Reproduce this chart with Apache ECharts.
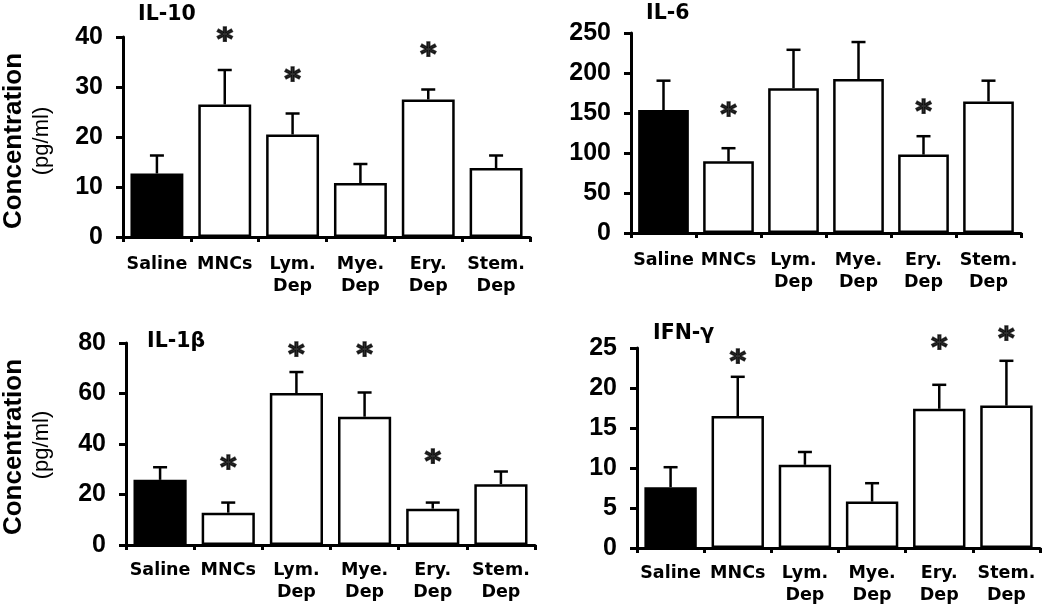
<!DOCTYPE html>
<html>
<head>
<meta charset="utf-8">
<script src="https://cdn.jsdelivr.net/npm/echarts@6/dist/echarts.min.js"></script>
<style>html,body{margin:0;padding:0;background:#fff}#c{width:1050px;height:610px}</style>
</head>
<body>
<div id="c"></div>
<script>
const categories = ['Saline', 'MNCs', 'Lym.\nDep', 'Mye.\nDep', 'Ery.\nDep', 'Stem.\nDep'];
const titles = ['IL-10', 'IL-6', 'IL-1β', 'IFN-γ'];
const yMax = [40, 250, 80, 25];
const yInterval = [10, 50, 20, 5];

const il10Mean = [12.7, 26.5, 20.5, 10.8, 27.5, 13.8];
const il10Sem  = [3.6, 6.9, 4.2, 3.8, 2.0, 2.5];
const il10Star = [null, 40.4, 32.4, null, 37.4, null];

const il6Mean = [153.7, 89.6, 181, 192.5, 98, 164.5];
const il6Sem  = [36.7, 16.4, 48, 46.2, 23, 25.9];
const il6Star = [null, 154, null, null, 158, null];

const il1bMean = [25.8, 12.8, 60.2, 50.8, 14.4, 24.1];
const il1bSem  = [5.0, 4.0, 8.3, 9.6, 2.4, 5.0];
const il1bStar = [null, 32.4, 77.4, 77.4, 35, null];

const ifnMean = [7.6, 16.5, 10.4, 5.8, 17.4, 17.8];
const ifnSem  = [2.5, 4.9, 1.6, 2.3, 3.0, 5.6];
const ifnStar = [null, 23.9, null, null, 25.6, 26.8];

const panels = [
  {mean: il10Mean, sem: il10Sem, star: il10Star},
  {mean: il6Mean, sem: il6Sem, star: il6Star},
  {mean: il1bMean, sem: il1bSem, star: il1bStar},
  {mean: ifnMean, sem: ifnSem, star: ifnStar}
];

const grids = [
  {left: 123, top: 37, width: 407, height: 200},
  {left: 631, top: 33, width: 390, height: 200},
  {left: 126, top: 343, width: 409, height: 202},
  {left: 637, top: 348, width: 403, height: 200}
];
const titlePos = [
  {left: 138, top: 4},
  {left: 646, top: 3},
  {left: 147, top: 331},
  {left: 653, top: 323}
];
const labelMargin = [16, 16, 14, 14];

const BOLD = 'DejaVu Sans';
const ARIAL = 'Liberation Sans';
const chart = echarts.init(document.getElementById('c'), null, {renderer: 'canvas'});

const xAxes = [], yAxes = [], series = [], titleArr = [];
panels.forEach((p, k) => {
  titleArr.push({
    text: titles[k], left: titlePos[k].left, top: titlePos[k].top, padding: 0,
    textStyle: {fontFamily: BOLD, fontWeight: 'bold', fontSize: 20.5, color: '#000'}
  });
  xAxes.push({
    type: 'category', gridIndex: k, data: categories,
    axisLine: {lineStyle: {color: '#000', width: 3}},
    axisTick: {show: true, length: 5, lineStyle: {color: '#000', width: 3}},
    axisLabel: {interval: 0, color: '#000', fontFamily: BOLD, fontWeight: 'bold',
                fontSize: 17.5, lineHeight: 22, margin: labelMargin[k]}
  });
  yAxes.push({
    type: 'value', gridIndex: k, min: 0, max: yMax[k], interval: yInterval[k],
    splitLine: {show: false},
    axisLine: {show: true, lineStyle: {color: '#000', width: 3}},
    axisTick: {show: true, length: 7, lineStyle: {color: '#000', width: 3}},
    axisLabel: {color: '#000', fontFamily: ARIAL, fontWeight: 'bold', fontSize: 25, margin: 20}
  });
  series.push({
    type: 'bar', xAxisIndex: k, yAxisIndex: k, barWidth: '78%',
    data: p.mean.map((v, i) => ({value: v, itemStyle: {color: i === 0 ? '#000' : '#fff'}})),
    itemStyle: {borderColor: '#000', borderWidth: 2.5},
    emphasis: {disabled: true}, z: 2
  });
  series.push({
    type: 'custom', xAxisIndex: k, yAxisIndex: k, z: 3,
    data: p.mean.map((v, i) => [i, v, v + p.sem[i]]),
    renderItem: function (params, api) {
      const a = api.coord([api.value(0), api.value(1)]);
      const b = api.coord([api.value(0), api.value(2)]);
      const st = {stroke: '#000', lineWidth: 2.5};
      return {type: 'group', children: [
        {type: 'line', shape: {x1: a[0], y1: a[1], x2: b[0], y2: b[1]}, style: st},
        {type: 'line', shape: {x1: b[0] - 7, y1: b[1], x2: b[0] + 7, y2: b[1]}, style: st}
      ]};
    }
  });
  series.push({
    type: 'scatter', xAxisIndex: k, yAxisIndex: k, symbolSize: 1, clip: false,
    itemStyle: {color: 'rgba(0,0,0,0)'}, z: 4,
    data: p.star.map((v, i) => v === null ? null : [i, v]).filter(d => d),
    label: {show: true, position: 'inside', formatter: '*', color: '#000',
            textBorderColor: '#000', textBorderWidth: 1.6,
            fontFamily: BOLD, fontWeight: 'bold', fontSize: 31, offset: [0, 6]}
  });
});

const yLabels = [
  {x: 14, y: 141, text: 'Concentration', font: 'bold 26px "Liberation Sans"'},
  {x: 42, y: 141, text: '(pg/ml)', font: '22px "Liberation Sans"'},
  {x: 14, y: 447, text: 'Concentration', font: 'bold 26px "Liberation Sans"'},
  {x: 42, y: 445, text: '(pg/ml)', font: '22px "Liberation Sans"'}
];

chart.setOption({
  animation: false,
  backgroundColor: '#fff',
  title: titleArr,
  grid: grids,
  xAxis: xAxes,
  yAxis: yAxes,
  series: series,
  graphic: yLabels.map(l => ({
    type: 'text', x: l.x, y: l.y, rotation: Math.PI / 2,
    style: {text: l.text, font: l.font, fill: '#000', textAlign: 'center', textVerticalAlign: 'middle'}
  }))
});
</script>
</body>
</html>
